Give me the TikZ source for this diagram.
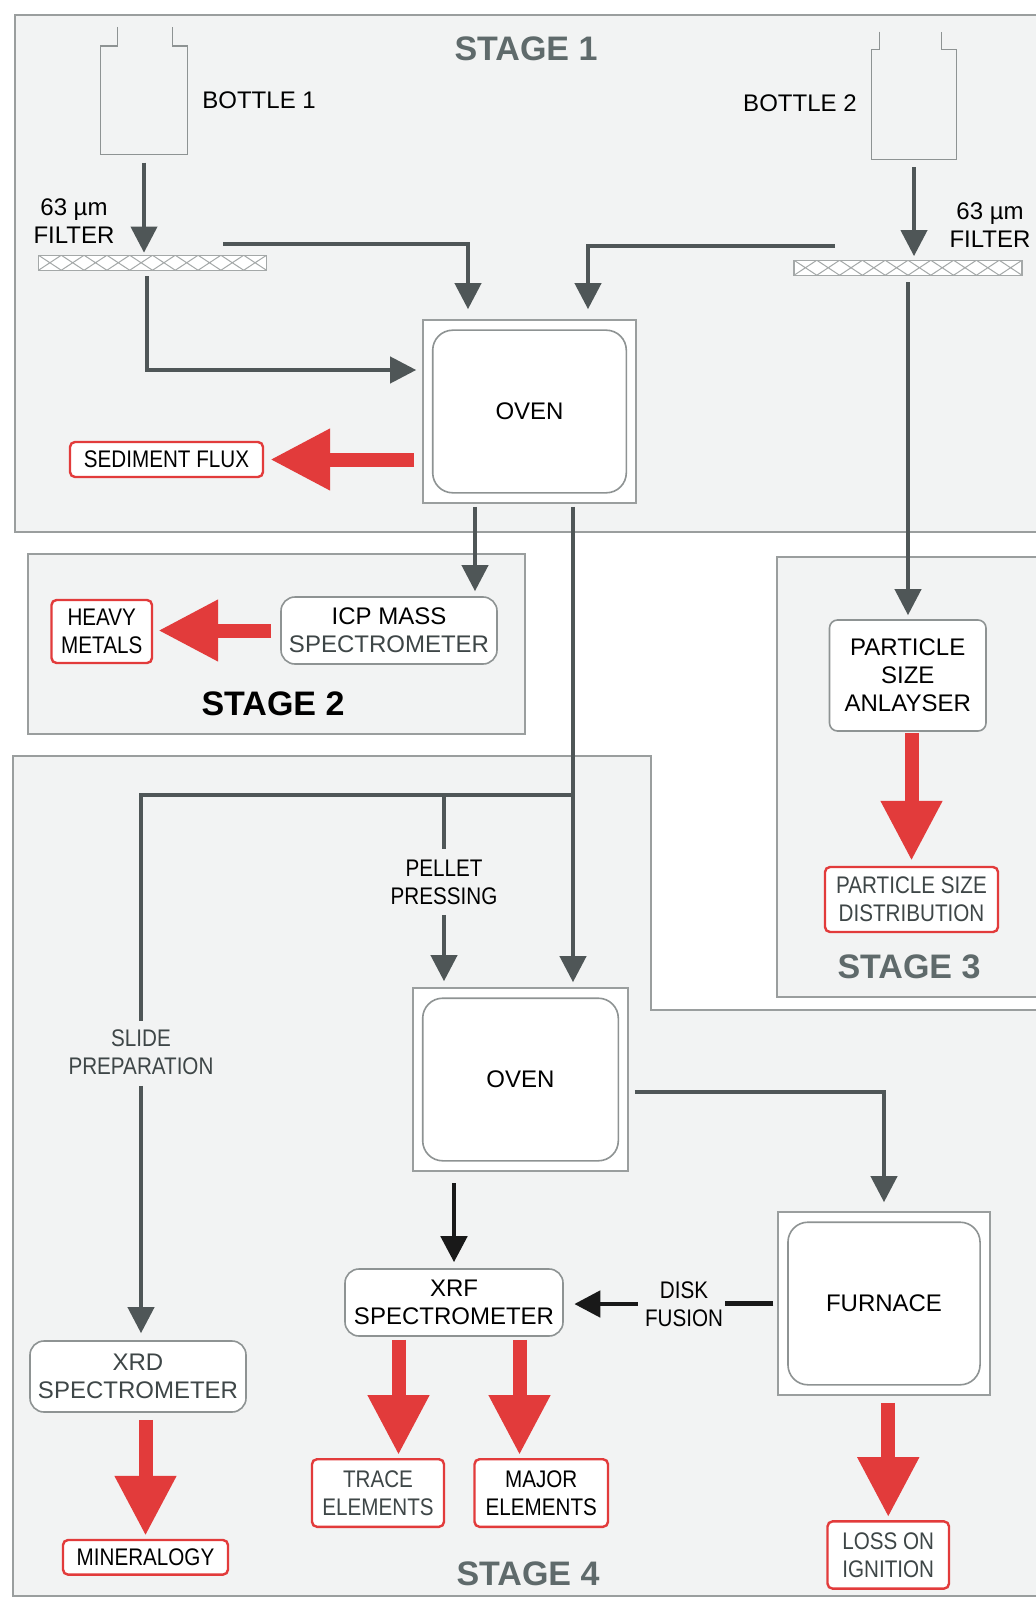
\documentclass[tikz,border=0pt]{standalone}
\usepackage{fontspec}
\setmainfont{Liberation Sans}
\newfontfamily\narrowsans[FakeStretch=0.86]{Liberation Sans}
\usepackage{tikz}
\usetikzlibrary{arrows.meta}
\definecolor{framegray}{HTML}{9A9E9E}
\definecolor{stagefill}{HTML}{F2F3F3}
\definecolor{flowgray}{HTML}{4F5657}
\definecolor{titlegray}{HTML}{5F6A6B}
\definecolor{resultred}{HTML}{E23B3B}
\definecolor{boxgray}{HTML}{8E9393}
\definecolor{hatchgray}{HTML}{A4A8A8}
\definecolor{labelgray}{HTML}{3E4647}
\tikzset{
  stageframe/.style={draw=framegray, fill=stagefill, line width=0.8pt},
  stagetitle/.style={font=\fontsize{17}{20}\selectfont\bfseries, text=titlegray},
  txt/.style={align=center, inner sep=1pt},
  narrowtxt/.style={font=\narrowsans\fontsize{12}{14}\selectfont, align=center, inner sep=1pt},
  ovenbox/.style={draw=framegray, fill=white, line width=0.8pt, minimum width=106.5pt, minimum height=91.5pt},
  innerbox/.style={draw=boxgray, line width=0.8pt, rounded corners=10pt},
  instrument/.style={draw=boxgray, fill=white, line width=0.8pt, rounded corners=7pt, align=center, inner sep=0pt},
  resultbox/.style={draw=resultred, fill=white, line width=1.2pt, rounded corners=2.5pt, align=center, inner sep=0pt, font=\narrowsans\fontsize{12}{14}\selectfont},
  bottlebody/.style={minimum width=43pt, minimum height=54pt, inner sep=0pt},
  bottleline/.style={draw=boxgray, line width=0.8pt},
  filterbar/.style={draw=hatchgray, fill=white, line width=0.6pt, minimum width=114pt, minimum height=7.5pt, inner sep=0pt,
    path picture={
      \foreach \k in {0,...,9}
        \draw[hatchgray, line width=0.5pt]
          ([xshift=\k*11.4pt]path picture bounding box.north west) -- ++(11.4pt,-7.5pt)
          ([xshift=\k*11.4pt]path picture bounding box.south west) -- ++(11.4pt,7.5pt);
    }},
  flow/.style={draw=flowgray, line width=2pt},
  flowarrow/.style={flow, -{Triangle[width=13pt,length=13pt]}},
  blackline/.style={draw=black!90, line width=2.4pt},
  blackarrow/.style={blackline, -{Triangle[width=13pt,length=13pt]}},
  redarrow/.style={draw=resultred, line width=7pt, -{Triangle[width=29pt,length=30pt]}}
}
\begin{document}
\begin{tikzpicture}[x=0.5pt,y=-0.5pt,every node/.style={font=\fontsize{12}{14}\selectfont}]
\useasboundingbox (0,0) rectangle (1036,1599);
\fill[white] (0,0) rectangle (1036,1599);
\draw[stageframe] (15,15) rectangle (1046,532);
\draw[stageframe] (28,554) rectangle (525,734);
\draw[stageframe] (777,557) rectangle (1046,997);
\draw[stageframe] (13,756) -- (651,756) -- (651,1010) -- (1046,1010) -- (1046,1596) -- (13,1596) -- cycle;

\node[stagetitle] (stage1) at (526,49) {STAGE 1};
\node[stagetitle, text=black] (stage2) at (273,704) {STAGE 2};
\node[stagetitle] (stage3) at (909,967) {STAGE 3};
\node[stagetitle] (stage4) at (528,1574) {STAGE 4};

\node[bottlebody] (bottle1) at (144,100.25) {};
\draw[bottleline] ([xshift=8.5pt,yshift=9.5pt]bottle1.north west) -- ([xshift=8.5pt]bottle1.north west) -- (bottle1.north west) -- (bottle1.south west) -- (bottle1.south east) -- (bottle1.north east) -- ([xshift=-7.5pt]bottle1.north east) -- ++(0pt,9.5pt);
\node[bottlebody, minimum width=42pt, minimum height=54.5pt] (bottle2) at (914,104.5) {};
\draw[bottleline] ([xshift=4pt,yshift=9pt]bottle2.north west) -- ([xshift=4pt]bottle2.north west) -- (bottle2.north west) -- (bottle2.south west) -- (bottle2.south east) -- (bottle2.north east) -- ([xshift=-7.5pt]bottle2.north east) -- ++(0pt,9pt);
\node[txt, anchor=west] (bottle1lbl) at (200,100) {BOTTLE 1};
\node[txt, anchor=east] (bottle2lbl) at (859,103) {BOTTLE 2};

\node[filterbar] (filter1) at (152.5,262.75) {};
\node[filterbar] (filter2) at (908,267.75) {};
\node[txt] (filter1lbl) at (74,221) {63 µm\\FILTER};
\node[txt] (filter2lbl) at (990,225.5) {63 µm\\FILTER};

\node[ovenbox] (oven1) at (529.5,411.5) {OVEN};
\node[ovenbox, minimum width=107.5pt] (oven2) at (520.5,1079.5) {OVEN};
\node[ovenbox, minimum width=105.75pt] (furnace) at (884,1303.5) {FURNACE};
\foreach \n in {oven1,oven2,furnace}
  \draw[innerbox] ([xshift=5.25pt,yshift=-5.5pt]\n.north west) rectangle ([xshift=-5.25pt,yshift=5.5pt]\n.south east);

\node[instrument, minimum width=108pt, minimum height=33.5pt] (icp) at (389,630.5) {ICP MASS\\\textcolor{labelgray}{SPECTROMETER}};
\node[instrument, minimum width=78.25pt, minimum height=55.5pt, rounded corners=4pt] (psa) at (907.75,675.5) {PARTICLE\\SIZE\\ANLAYSER};
\node[instrument, minimum width=109pt, minimum height=33.5pt] (xrf) at (454,1302.5) {XRF\\SPECTROMETER};
\node[instrument, minimum width=108pt, minimum height=35.5pt, text=labelgray] (xrd) at (138,1376.5) {XRD\\SPECTROMETER};

\node[resultbox, minimum width=96.5pt, minimum height=17.5pt] (flux) at (166.5,459.5) {SEDIMENT FLUX};
\node[resultbox, minimum width=50.25pt, minimum height=31.5pt] (heavy) at (101.75,631.5) {HEAVY\\METALS};
\node[resultbox, minimum width=86.5pt, minimum height=32.5pt, text=labelgray] (psd) at (911.5,899.5) {PARTICLE SIZE\\DISTRIBUTION};
\node[resultbox, minimum width=66pt, minimum height=33.8pt, text=labelgray] (trace) at (378,1493) {TRACE\\ELEMENTS};
\node[resultbox, minimum width=66.75pt, minimum height=33.8pt] (major) at (541.25,1493) {MAJOR\\ELEMENTS};
\node[resultbox, minimum width=82.5pt, minimum height=17.3pt] (mineral) at (145.5,1557.3) {MINERALOGY};
\node[resultbox, minimum width=60.75pt, minimum height=33.6pt, text=labelgray] (loi) at (888.25,1555) {LOSS ON\\IGNITION};

\node[narrowtxt] (pelletlbl) at (444,882) {PELLET\\PRESSING};
\node[narrowtxt, text=labelgray] (slidelbl) at (141,1052) {SLIDE\\PREPARATION};
\node[narrowtxt] (disklbl) at (684,1304) {DISK\\FUSION};
\coordinate (split) at (573,795);

\draw[flowarrow, shorten <=4pt, shorten >=1pt] (bottle1.south) -- (bottle1.south |- filter1.north);
\draw[flowarrow, shorten >=5pt] ([xshift=35.25pt,yshift=5.5pt]filter1.north) -| ([xshift=-30.75pt]oven1.north);
\draw[flowarrow, shorten <=2.75pt, shorten >=3pt] ([xshift=-2.75pt]filter1.south) |- ([yshift=20.75pt]oven1.west);
\draw[flowarrow, shorten <=4pt, shorten >=1.75pt] (bottle2.south) -- (bottle2.south |- filter2.north);
\draw[flowarrow, shorten >=5pt] ([xshift=-36.5pt,yshift=7pt]filter2.north) -| ([xshift=29.25pt]oven1.north);
\draw[flowarrow, shorten <=3.25pt, shorten >=2pt] (filter2.south) -- (filter2.south |- psa.north);
\draw[redarrow, shorten <=4pt, shorten >=3pt] (oven1.west |- flux.east) -- (flux.east);

\draw[flowarrow, shorten <=1.5pt, shorten >=2.5pt] ([xshift=-27.25pt]oven1.south) -- ([xshift=-27.25pt]oven1.south |- icp.north);
\draw[redarrow, shorten <=4.5pt, shorten >=2.5pt] (icp.west) -- (icp.west -| heavy.east);
\draw[redarrow, shorten <=0.5pt, shorten >=2.5pt] (psd.north |- psa.south) -- (psd.north);

\draw[flowarrow, shorten <=1.5pt, shorten >=2.5pt] ([xshift=21.75pt]oven1.south) -- ([xshift=21.75pt]oven1.south |- oven2.north);
\draw[flow, shorten >=3pt] (split) -| (slidelbl.north);
\draw[flow, shorten >=4pt] (pelletlbl.north |- split) -- (pelletlbl.north);
\draw[flowarrow, shorten <=4pt, shorten >=3pt] (pelletlbl.south) -- (pelletlbl.south |- oven2.north);
\draw[flowarrow, shorten <=4.5pt, shorten >=3.5pt] (slidelbl.south) -- (slidelbl.south |- xrd.north);
\draw[flowarrow, shorten <=3pt, shorten >=4.5pt] ([yshift=-6.25pt]oven2.east) -| (furnace.north);

\draw[blackarrow, shorten <=5.75pt, shorten >=3pt] (xrf.north |- oven2.south) -- (xrf.north);
\draw[blackline, shorten <=2pt] (furnace.west) -- (furnace.west -| disklbl.east);
\draw[blackarrow, shorten <=2.5pt, shorten >=5.25pt] (disklbl.west) -- (disklbl.west -| xrf.east);

\draw[redarrow, shorten <=1.5pt, shorten >=1.5pt] ([xshift=-27.75pt]xrf.south) -- ([xshift=-27.75pt]xrf.south |- trace.north);
\draw[redarrow, shorten <=1.5pt, shorten >=1.5pt] ([xshift=32.75pt]xrf.south) -- ([xshift=32.75pt]xrf.south |- major.north);
\draw[redarrow, shorten <=3.5pt, shorten >=1.5pt] (mineral.north |- xrd.south) -- (mineral.north);
\draw[redarrow, shorten <=3.5pt, shorten >=1.5pt] (loi.north |- furnace.south) -- (loi.north);
\end{tikzpicture}
\end{document}
